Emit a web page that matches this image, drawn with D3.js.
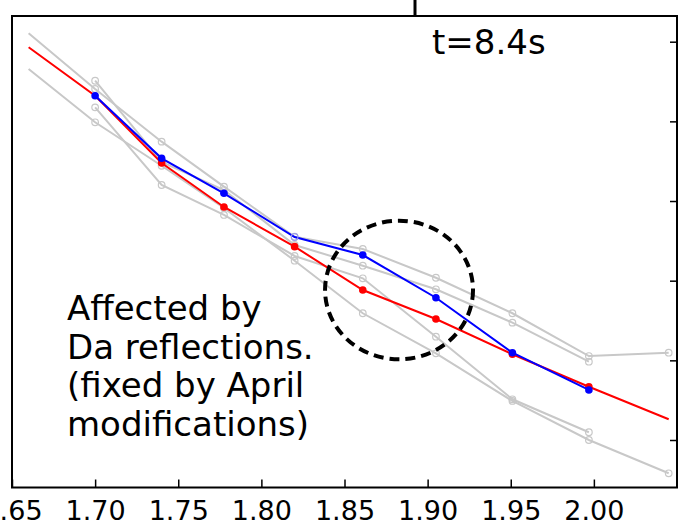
<!DOCTYPE html>
<html>
<head>
<meta charset="utf-8">
<script src="https://cdn.jsdelivr.net/npm/d3@7"></script>
<style>
  html, body { margin: 0; padding: 0; background: #fff; }
  svg { display: block; font-family: "DejaVu Sans", sans-serif; }
</style>
</head>
<body>
<svg id="chart" width="678" height="526"></svg>
<script>
// ---- data ----
const xTicks = [1.65, 1.70, 1.75, 1.80, 1.85, 1.90, 1.95, 2.00];
const yTicks = [1, 2, 3, 4, 5, 6];
const xs = [1.70, 1.74, 1.7775, 1.82, 1.861, 1.905, 1.951, 1.997];

const redX = [1.66, 1.70, 1.74, 1.7775, 1.82, 1.861, 1.905, 1.951, 1.997, 2.045];
const redY = [5.930, 5.322, 4.477, 3.925, 3.427, 2.883, 2.519, 2.076, 1.669, 1.260];
const redMarkX = [1.74, 1.7775, 1.82, 1.861, 1.905, 1.951, 1.997];

const blueY = [5.322, 4.536, 4.097, 3.548, 3.322, 2.786, 2.096, 1.628];
const blueMarkX = [1.70, 1.74, 1.7775, 1.861, 1.905, 1.951, 1.997];

const gray1X = [1.66, 1.70, 1.74, 1.7775, 1.82, 1.861, 1.905, 1.951, 1.997, 2.045];
const gray1Y = [6.105, 5.406, 4.745, 4.180, 3.552, 3.398, 3.037, 2.591, 2.054, 2.096];
const gray2Y = [5.510, 4.490, 4.138, 3.448, 3.188, 2.892, 2.473, 1.983];
const gray3Y = [5.176, 4.201, 3.825, 3.310, 3.030, 2.297, 1.511, 1.097];
const gray4X = [1.66, 1.70, 1.74, 1.7775, 1.82, 1.861, 1.905, 1.951, 1.997, 2.045];
const gray4Y = [5.657, 4.988, 4.443, 3.912, 3.251, 2.591, 2.088, 1.490, 1.000, 0.582];
const grayMarkX = [1.70, 1.74, 1.7775, 1.82, 1.861, 1.905, 1.951, 1.997, 2.045];

const circleCenter = [1.8828, 2.883];
const circleRadius = [0.0445, 0.870];

const label = "t=8.4s";
const noteLines = ["Affected by", "Da reflections.", "(fixed by April", "modifications)"];

// ---- layout ----
const L = 12, R = 677, T = 16, B = 487.5;
const svg = d3.select("#chart");
const x = d3.scaleLinear().domain([1.65, 2.05]).range([L, R]);
const y = d3.scaleLinear().domain([0.4037, 6.3226]).range([B, T]);

svg.append("defs").append("clipPath").attr("id", "clip")
  .append("rect").attr("x", L).attr("y", T).attr("width", R - L).attr("height", B - T);

const plot = svg.append("g").attr("clip-path", "url(#clip)");
const line = d3.line().x(d => x(d[0])).y(d => y(d[1]));
const zip = (a, b) => a.map((v, i) => [v, b[i]]);

const graySeries = [zip(gray1X, gray1Y), zip(xs, gray2Y), zip(xs, gray3Y), zip(gray4X, gray4Y)];
const GRAY = "#c8c8c8";

graySeries.forEach(s => {
  plot.append("path").datum(s).attr("d", line)
    .attr("fill", "none").attr("stroke", GRAY).attr("stroke-width", 2);
});
graySeries.forEach(s => {
  plot.selectAll(null).data(s.filter(d => grayMarkX.includes(d[0]))).enter()
    .append("circle").attr("cx", d => x(d[0])).attr("cy", d => y(d[1])).attr("r", 3.3)
    .attr("fill", "none").attr("stroke", GRAY).attr("stroke-width", 1.2);
});

const redData = zip(redX, redY);
plot.append("path").datum(redData).attr("d", line)
  .attr("fill", "none").attr("stroke", "#ff0000").attr("stroke-width", 2);
plot.selectAll(null).data(redData.filter(d => redMarkX.includes(d[0]))).enter()
  .append("circle").attr("cx", d => x(d[0])).attr("cy", d => y(d[1])).attr("r", 3.8)
  .attr("fill", "#ff0000");

const blueData = zip(xs, blueY);
plot.append("path").datum(blueData).attr("d", line)
  .attr("fill", "none").attr("stroke", "#0000ff").attr("stroke-width", 2);
plot.selectAll(null).data(blueData.filter(d => blueMarkX.includes(d[0]))).enter()
  .append("circle").attr("cx", d => x(d[0])).attr("cy", d => y(d[1])).attr("r", 3.8)
  .attr("fill", "#0000ff");
// faint hollow marker where blue passes the grey point
plot.selectAll(null).data(blueData.filter(d => !blueMarkX.includes(d[0]))).enter()
  .append("circle").attr("cx", d => x(d[0])).attr("cy", d => y(d[1])).attr("r", 3.3)
  .attr("fill", "none").attr("stroke", "#9a9ae8").attr("stroke-width", 1.2);

// dashed circle annotation
plot.append("ellipse")
  .attr("cx", x(circleCenter[0])).attr("cy", y(circleCenter[1]))
  .attr("rx", x(circleCenter[0] + circleRadius[0]) - x(circleCenter[0]))
  .attr("ry", y(circleCenter[1]) - y(circleCenter[1] + circleRadius[1]))
  .attr("fill", "none").attr("stroke", "#000").attr("stroke-width", 4)
  .attr("stroke-dasharray", "10,6");

// axes
const xAxis = d3.axisBottom(x).tickValues(xTicks).tickFormat(d3.format(".2f"))
  .tickSizeInner(-8).tickSizeOuter(0).tickPadding(13);
const gx = svg.append("g").attr("transform", `translate(0,${B})`).call(xAxis);
gx.select(".domain").remove();
gx.selectAll(".tick line").attr("stroke", "#000").attr("stroke-width", 1.5);
gx.selectAll(".tick text").attr("font-size", 27).attr("fill", "#000")
  .attr("font-family", "DejaVu Sans");

const yAxis = d3.axisLeft(y).tickValues(yTicks).tickFormat("")
  .tickSizeInner(7).tickSizeOuter(0);
const gy = svg.append("g").attr("transform", `translate(${R},0)`).call(yAxis);
gy.select(".domain").remove();
gy.selectAll(".tick line").attr("stroke", "#000").attr("stroke-width", 1.5);

// frame
svg.append("rect").attr("x", L).attr("y", T).attr("width", R - L).attr("height", B - T)
  .attr("fill", "none").attr("stroke", "#000").attr("stroke-width", 2);

// fragment of the panel above
svg.append("line").attr("x1", 415).attr("x2", 415).attr("y1", 0).attr("y2", T)
  .attr("stroke", "#000").attr("stroke-width", 3);

// texts
svg.append("text").attr("x", 432).attr("y", 54).attr("font-size", 34).attr("fill", "#000")
  .text(label);

const note = svg.append("text").attr("x", 67).attr("y", 320).attr("font-size", 34).attr("fill", "#000");
noteLines.forEach((t, i) => {
  note.append("tspan").attr("x", 67).attr("y", 320 + i * 38.5).text(t);
});
</script>
</body>
</html>
